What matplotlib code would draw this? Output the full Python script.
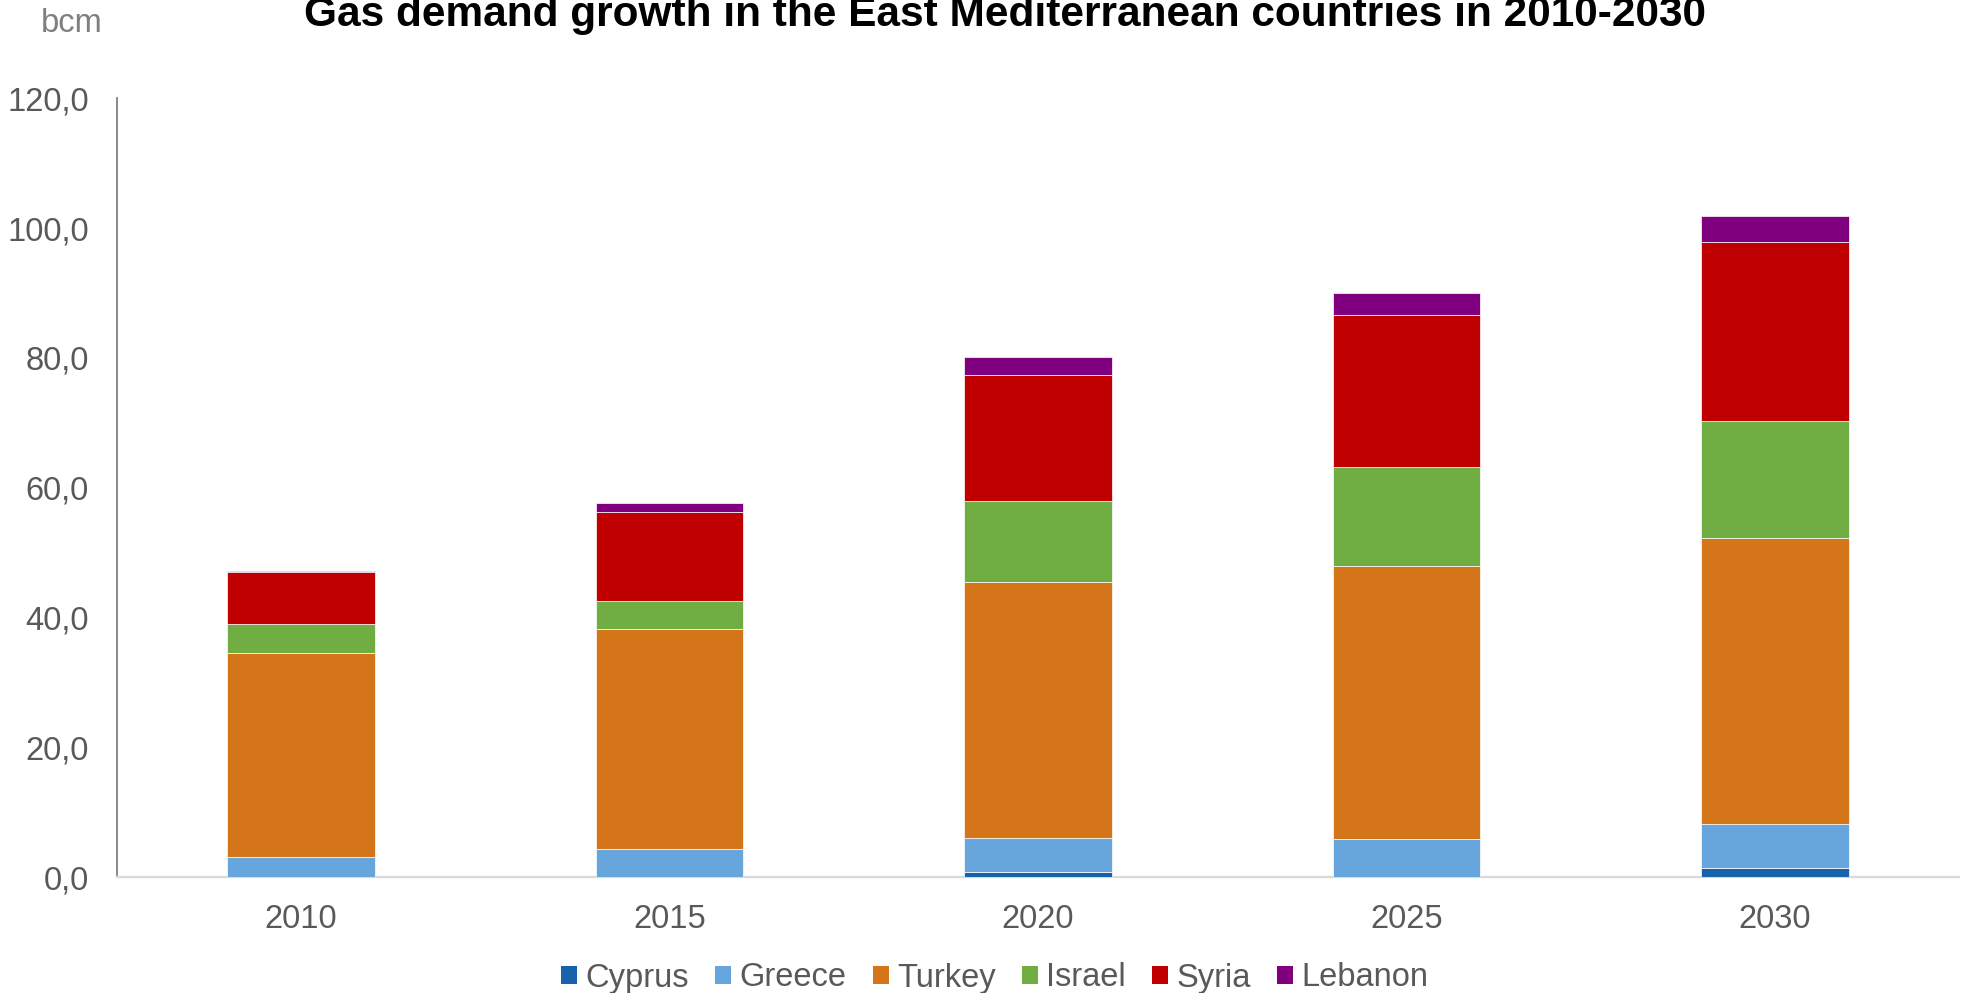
import numpy as np
import matplotlib.pyplot as plt
from matplotlib.patches import Patch
from matplotlib.ticker import FuncFormatter

plt.rcParams['font.family'] = ['Liberation Sans', 'DejaVu Sans']

years = ["2010", "2015", "2020", "2025", "2030"]
countries = ["Cyprus", "Greece", "Turkey", "Israel", "Syria", "Lebanon"]

# demand by country, bcm
cyprus = [0.0, 0.0, 0.8, 0.0, 1.4]
greece = [3.2, 4.4, 5.3, 5.9, 6.8]
turkey = [31.4, 33.8, 39.4, 42.1, 44.0]
israel = [4.4, 4.3, 12.5, 15.2, 18.1]
syria = [8.0, 13.7, 19.4, 23.4, 27.5]
lebanon = [0.2, 1.5, 2.8, 3.4, 4.1]

series = [cyprus, greece, turkey, israel, syria, lebanon]
colors = ["#1862AB", "#67A6DD", "#D47519", "#70AD43", "#C00000", "#800080"]

fig = plt.figure(figsize=(19.62, 9.93), dpi=100)
ax = fig.add_axes([0.0595, 0.1165, 0.939, 0.7845])

x = np.arange(len(years))
bottom = np.zeros(len(years))
for vals, col in zip(series, colors):
    ax.bar(x, vals, width=0.4, bottom=bottom, color=col,
           edgecolor="white", linewidth=0.5, zorder=3)
    bottom += np.array(vals)

ax.set_xlim(-0.5, 4.5)
ax.set_ylim(0, 120)
ax.set_yticks(np.arange(0, 121, 20))
ax.yaxis.set_major_formatter(FuncFormatter(lambda v, p: f"{v:.1f}".replace(".", ",")))
ax.set_xticks(x)
ax.set_xticklabels(years)
ax.tick_params(axis="both", length=0, labelsize=23.5, labelcolor="#595959")
ax.tick_params(axis="y", pad=20)
ax.tick_params(axis="x", pad=19)

for s in ["top", "right"]:
    ax.spines[s].set_visible(False)
ax.spines["left"].set_color("#808080")
ax.spines["left"].set_linewidth(1.3)
ax.spines["bottom"].set_color("#D9D9D9")
ax.spines["bottom"].set_linewidth(1.6)

fig.text(0.512, 1 - 15 / 993, "Gas demand growth in the East Mediterranean countries in 2010-2030",
         ha="center", va="center", fontsize=30.5, fontweight="bold", color="black")
fig.text(0.021, 1 - 23 / 993, "bcm", ha="left", va="center", fontsize=23.5, color="#7F7F7F")

handles = [Patch(facecolor=c, edgecolor="none") for c in colors]
fig.legend(handles, countries, loc="center", bbox_to_anchor=(0.507, 1 - 978 / 993),
           ncol=6, frameon=False, fontsize=23.5, handlelength=0.5, handleheight=0.5,
           handletextpad=0.25, columnspacing=0.8, labelcolor="#595959")

fig.savefig("out.png", dpi=100)
